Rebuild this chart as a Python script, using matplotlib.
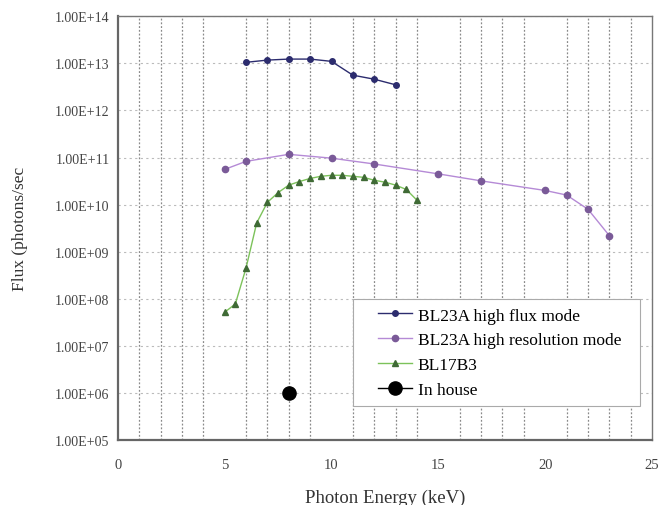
import numpy as np
import matplotlib
matplotlib.use('Agg')
import matplotlib.pyplot as plt
from matplotlib.patches import Rectangle
from matplotlib.ticker import FixedLocator, MultipleLocator

plt.rcParams['font.family'] = ['Liberation Serif', 'DejaVu Serif']

# BL23A high flux mode
flux_x = [6, 7, 8, 9, 10, 11, 12, 13]
flux_y = [1.05e13, 1.17e13, 1.23e13, 1.23e13, 1.1e13, 5.6e12, 4.6e12, 3.5e12]

# BL23A high resolution mode
res_x = [5, 6, 8, 10, 12, 15, 17, 20, 21, 22, 23]
res_y = [5.6e10, 8.3e10, 1.17e11, 9.7e10, 7.3e10, 4.5e10, 3.2e10, 2.0e10, 1.6e10, 8e9, 2.2e9]

# BL17B3
b17_x = [5, 5.5, 6, 6.5, 7, 7.5, 8, 8.5, 9, 9.5, 10, 10.5, 11, 11.5, 12, 12.5, 13, 13.5, 14]
b17_y = [5.2e7, 7.8e7, 4.5e8, 4.1e9, 1.12e10, 1.8e10, 2.6e10, 3.1e10, 3.6e10, 4.0e10,
         4.2e10, 4.2e10, 4.0e10, 3.8e10, 3.3e10, 3.0e10, 2.6e10, 2.1e10, 1.24e10]

# In house
house_x = [8]
house_y = [1e6]

ytick_vals = [10.0 ** k for k in range(5, 15)]
ytick_labels = ['1.00E+%02d' % k for k in range(5, 15)]

fig = plt.figure(figsize=(6.58, 5.06), dpi=100)
ax = fig.add_axes([0.179, 0.128, 0.812, 0.838])

ax.plot(flux_x, flux_y, color='#2c2c6e', lw=1.0, marker='o', ms=4, label='BL23A high flux mode')
ax.plot(res_x, res_y, color='#b58ad6', lw=1.0, marker='o', ms=4.5,
        mfc='#7a5a98', mec='#7a5a98', label='BL23A high resolution mode')
ax.plot(b17_x, b17_y, color='#7cc25a', lw=1.0, marker='^', ms=4.5,
        mfc='#3f6a35', mec='#3f6a35', label='BL17B3')
ax.plot(house_x, house_y, color='black', lw=1.0, marker='o', ms=9.5, label='In house')

ax.set_yscale('log')
ax.set_xlim(0, 25)
ax.set_ylim(1e5, 1e14)
ax.xaxis.set_major_locator(MultipleLocator(5))
ax.xaxis.set_minor_locator(MultipleLocator(1))
ax.yaxis.set_major_locator(FixedLocator(ytick_vals))
ax.yaxis.set_minor_locator(FixedLocator([]))
ax.set_yticks(ytick_vals)
ax.set_yticklabels(ytick_labels)
ax.tick_params(axis='both', which='both', length=0, colors='#444444')
ax.tick_params(axis='y', labelsize=10, pad=6)
ax.tick_params(axis='x', labelsize=10.5, pad=13)

ax.grid(True, axis='x', which='minor', color='#8a8a8a', ls=(0, (1.5, 1.5)), lw=0.9)
ax.grid(True, axis='y', which='major', color='#bbbbbb', ls=(0, (2, 3)), lw=0.8)
ax.set_axisbelow(True)

for s in ['left', 'bottom']:
    ax.spines[s].set_color('#666666')
    ax.spines[s].set_linewidth(1.6)
for s in ['top', 'right']:
    ax.spines[s].set_color('#777777')
    ax.spines[s].set_linewidth(1.0)

ax.set_xlabel('Photon Energy (keV)', fontsize=13.5, color='#333333', va='center')
ax.xaxis.set_label_coords(0.5, -0.134)
ax.set_ylabel('Flux (photons/sec', fontsize=12.5, color='#333333', va='center')
ax.yaxis.set_label_coords(-0.1835, 0.5)

# legend box drawn separately to get the wide side padding of the original
ax.add_patch(Rectangle((0.440, 0.080), 0.5375, 0.2525, transform=ax.transAxes,
                       facecolor='white', edgecolor='#aaaaaa', lw=0.8, zorder=4))
leg = ax.legend(loc='center', bbox_to_anchor=(0.7144, 0.2064), borderaxespad=0,
                fontsize=12.5, frameon=False, handlelength=2.0,
                handletextpad=0.3, borderpad=0, labelspacing=0.5)
leg.set_zorder(5)

fig.savefig('out.png', dpi=100)
